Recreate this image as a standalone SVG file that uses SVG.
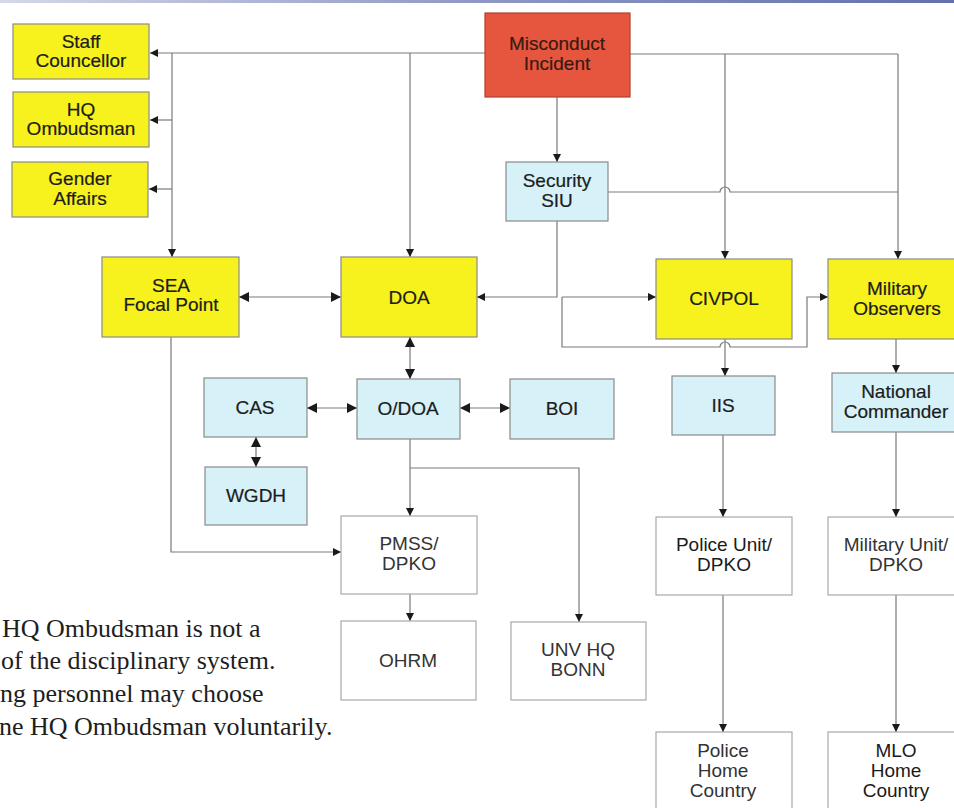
<svg xmlns="http://www.w3.org/2000/svg" width="954" height="808" viewBox="0 0 954 808">
<defs>
<linearGradient id="topbar" x1="0" y1="0" x2="1" y2="0">
<stop offset="0" stop-color="#d4d8e8"/>
<stop offset="0.5" stop-color="#8f98c4"/>
<stop offset="1" stop-color="#6470ad"/>
</linearGradient>
<marker id="ah" viewBox="0 0 10 10" refX="10" refY="5" markerWidth="8" markerHeight="8" markerUnits="userSpaceOnUse" orient="auto-start-reverse">
<path d="M0,0 L10,5 L0,10 Z" fill="#1a1a1a"/>
</marker>
<marker id="ahb" viewBox="0 0 10 10" refX="10" refY="5" markerWidth="11" markerHeight="10" markerUnits="userSpaceOnUse" orient="auto-start-reverse">
<path d="M0,0 L10,5 L0,10 Z" fill="#1a1a1a"/>
</marker>
</defs>
<style>
.box{stroke:#8a8a8a;stroke-width:1.2}
.yel{fill:#f7f21e}
.red{fill:#e6563f;stroke:#b04030}
.cyan{fill:#d6f1f8}
.wht{fill:#ffffff;stroke:#a8a8a8}
.lbl{font-family:"Liberation Sans",Arial,sans-serif;font-size:19px;fill:#1c1c1c;stroke:#1c1c1c;stroke-width:0.2;text-anchor:middle}
.lblr{font-family:"Liberation Sans",Arial,sans-serif;font-size:19px;fill:#3a1a10;stroke:#3a1a10;stroke-width:0.2;text-anchor:middle}
.lblw{font-family:"Liberation Sans",Arial,sans-serif;font-size:19px;fill:#333;text-anchor:middle}
.lbld{font-family:"Liberation Sans",Arial,sans-serif;font-size:19px;fill:#1a1a1a;text-anchor:middle}
.note{font-family:"Liberation Serif","Times New Roman",serif;font-size:26px;fill:#1e1e1e}
.c{fill:none;stroke:#7a7a7a;stroke-width:1.2}
.a{marker-end:url(#ah)}
.d{marker-start:url(#ahb);marker-end:url(#ahb)}
</style>
<rect x="0" y="0" width="954" height="808" fill="#ffffff"/>
<rect x="0" y="0" width="954" height="3" fill="url(#topbar)"/>

<g id="connectors">
<path class="c a" d="M485,53 L150,53"/>
<path class="c a" d="M172,53 L172,257"/>
<path class="c a" d="M172,120 L150,120"/>
<path class="c a" d="M172,189 L149,189"/>
<path class="c a" d="M410,53 L410,257"/>
<path class="c" d="M630,54 L898,54"/>
<path class="c a" d="M725,54 L725,259"/>
<path class="c a" d="M898,54 L898,259"/>
<path class="c a" d="M557,97 L557,162"/>
<path class="c" d="M608,192 L720,192 A5,5 0 0 1 730,192 L898,192"/>
<path class="c a" d="M557,221 L557,297 L477,297"/>
<path class="c a" d="M562,297 L656,297"/>
<path class="c a" d="M562,297 L562,347 L720,347 A5,5 0 0 1 730,347 L807,347 L807,297 L828,297"/>
<path class="c d" d="M239,297 L341,297"/>
<path class="c d" d="M410,337 L410,379"/>
<path class="c d" d="M307,408 L357,408"/>
<path class="c d" d="M460,408 L510,408"/>
<path class="c d" d="M256,437 L256,467"/>
<path class="c a" d="M410,439 L410,516"/>
<path class="c a" d="M410,468 L579,468 L579,622"/>
<path class="c a" d="M171,337 L171,552 L341,552"/>
<path class="c a" d="M410,594 L410,621"/>
<path class="c a" d="M725,339 L725,376"/>
<path class="c a" d="M723,435 L723,517"/>
<path class="c a" d="M723,595 L723,732"/>
<path class="c a" d="M896,339 L896,373"/>
<path class="c a" d="M896,432 L896,517"/>
<path class="c a" d="M896,595 L896,732"/>
</g>

<g id="staff-councellor">
<rect class="box yel" x="13" y="24" width="136" height="55"/>
<text class="lbl" x="81" y="48">Staff</text>
<text class="lbl" x="81" y="67">Councellor</text>
</g>
<g id="hq-ombudsman">
<rect class="box yel" x="13" y="92" width="136" height="55"/>
<text class="lbl" x="81" y="116">HQ</text>
<text class="lbl" x="81" y="135">Ombudsman</text>
</g>
<g id="gender-affairs">
<rect class="box yel" x="12" y="162" width="136" height="55"/>
<text class="lbl" x="80" y="185">Gender</text>
<text class="lbl" x="80" y="205">Affairs</text>
</g>
<g id="misconduct-incident">
<rect class="box red" x="485" y="13" width="145" height="84"/>
<text class="lblr" x="557" y="50">Misconduct</text>
<text class="lblr" x="557" y="70">Incident</text>
</g>
<g id="security-siu">
<rect class="box cyan" x="506" y="162" width="102" height="59"/>
<text class="lbl" x="557" y="187">Security</text>
<text class="lbl" x="557" y="207">SIU</text>
</g>
<g id="sea-focal-point">
<rect class="box yel" x="102" y="257" width="137" height="80"/>
<text class="lbl" x="171" y="292">SEA</text>
<text class="lbl" x="171" y="311">Focal Point</text>
</g>
<g id="doa">
<rect class="box yel" x="341" y="257" width="136" height="80"/>
<text class="lbl" x="409" y="304">DOA</text>
</g>
<g id="civpol">
<rect class="box yel" x="656" y="259" width="136" height="80"/>
<text class="lbl" x="724" y="305">CIVPOL</text>
</g>
<g id="military-observers">
<rect class="box yel" x="828" y="259" width="134" height="80"/>
<text class="lbl" x="897" y="295">Military</text>
<text class="lbl" x="897" y="315">Observers</text>
</g>
<g id="cas">
<rect class="box cyan" x="204" y="378" width="103" height="59"/>
<text class="lbl" x="255" y="414">CAS</text>
</g>
<g id="o-doa">
<rect class="box cyan" x="357" y="379" width="103" height="60"/>
<text class="lbl" x="408" y="415">O/DOA</text>
</g>
<g id="boi">
<rect class="box cyan" x="510" y="379" width="104" height="60"/>
<text class="lbl" x="562" y="415">BOI</text>
</g>
<g id="iis">
<rect class="box cyan" x="672" y="376" width="103" height="59"/>
<text class="lbl" x="723" y="412">IIS</text>
</g>
<g id="national-commander">
<rect class="box cyan" x="832" y="373" width="128" height="59"/>
<text class="lbl" x="896" y="398">National</text>
<text class="lbl" x="896" y="418">Commander</text>
</g>
<g id="wgdh">
<rect class="box cyan" x="205" y="467" width="102" height="58"/>
<text class="lbl" x="256" y="502">WGDH</text>
</g>
<g id="pmss-dpko">
<rect class="box wht" x="341" y="516" width="136" height="78"/>
<text class="lblw" x="409" y="550">PMSS/</text>
<text class="lblw" x="409" y="570">DPKO</text>
</g>
<g id="ohrm">
<rect class="box wht" x="341" y="621" width="135" height="79"/>
<text class="lblw" x="408" y="667">OHRM</text>
</g>
<g id="unv-hq-bonn">
<rect class="box wht" x="511" y="622" width="135" height="78"/>
<text class="lblw" x="578" y="656">UNV HQ</text>
<text class="lblw" x="578" y="676">BONN</text>
</g>
<g id="police-unit-dpko">
<rect class="box wht" x="656" y="517" width="136" height="78"/>
<text class="lbld" x="724" y="551">Police Unit/</text>
<text class="lbld" x="724" y="571">DPKO</text>
</g>
<g id="military-unit-dpko">
<rect class="box wht" x="828" y="517" width="134" height="78"/>
<text class="lblw" x="896" y="551">Military Unit/</text>
<text class="lblw" x="896" y="571">DPKO</text>
</g>
<g id="police-home-country">
<rect class="box wht" x="656" y="732" width="136" height="90"/>
<text class="lblw" x="723" y="757">Police</text>
<text class="lblw" x="723" y="777">Home</text>
<text class="lblw" x="723" y="797">Country</text>
</g>
<g id="mlo-home-country">
<rect class="box wht" x="828" y="732" width="134" height="90"/>
<text class="lbld" x="896" y="757">MLO</text>
<text class="lbld" x="896" y="777">Home</text>
<text class="lbld" x="896" y="797">Country</text>
</g>

<g id="note">
<text class="note" x="2" y="637">HQ Ombudsman is not a</text>
<text class="note" x="1" y="669">of the disciplinary system.</text>
<text class="note" x="0" y="702">ng personnel may choose</text>
<text class="note" x="-1" y="735">ne HQ Ombudsman voluntarily.</text>
</g>
</svg>
